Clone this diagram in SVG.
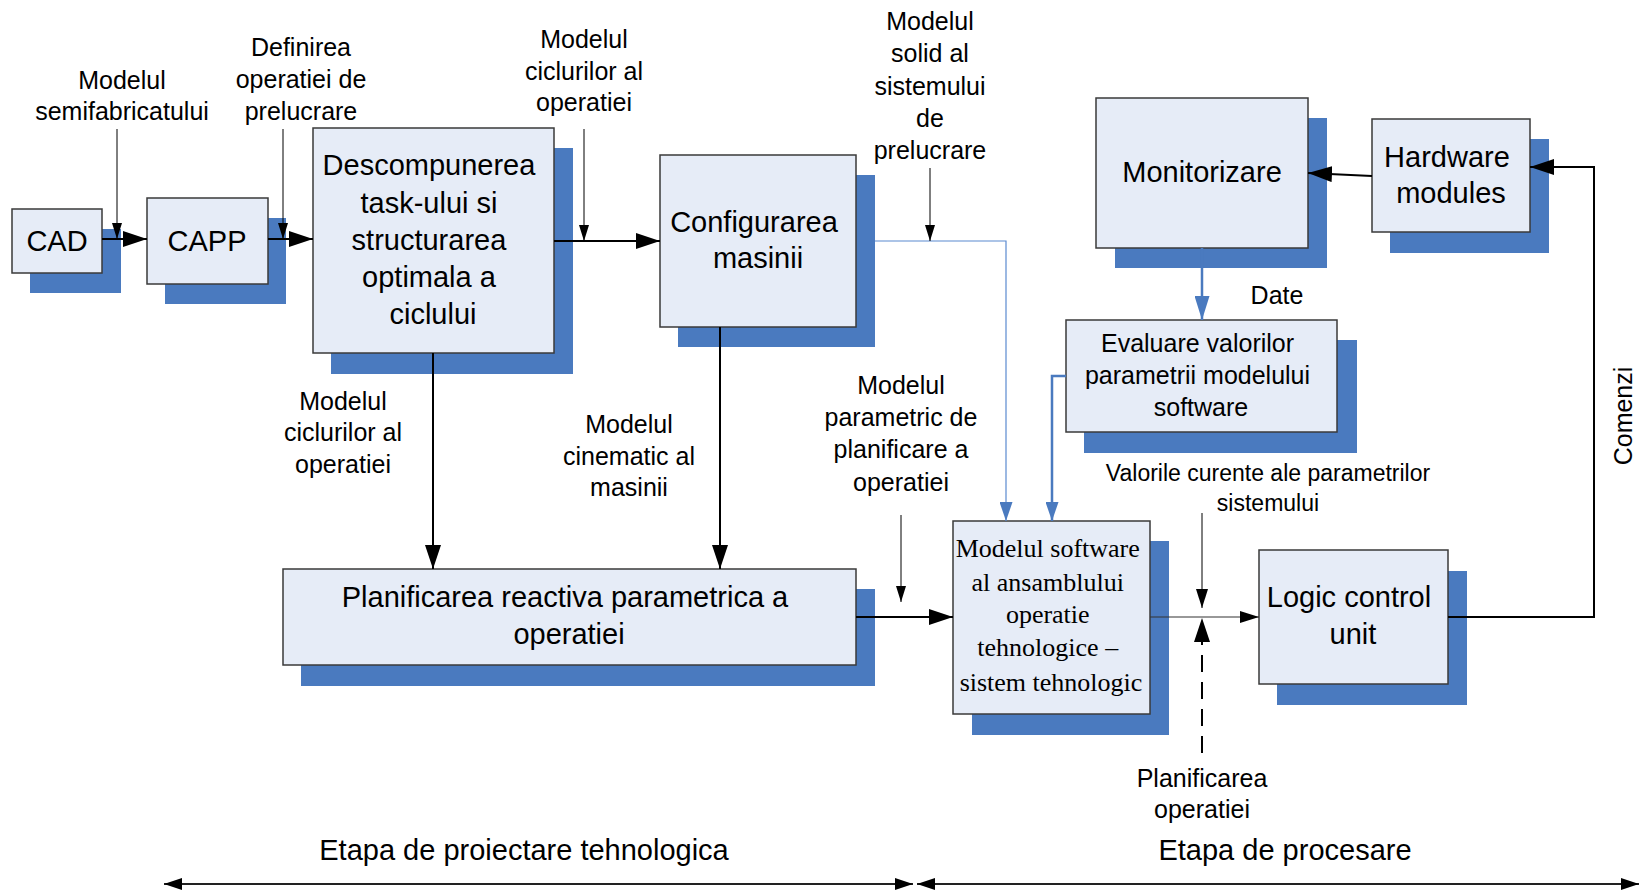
<svg xmlns="http://www.w3.org/2000/svg" width="1646" height="893" viewBox="0 0 1646 893">
<style>
  .sh { fill: #4a7abf; }
  .bx { fill: #e6ecf7; stroke: #3a3a3a; stroke-width: 1.5; }
  text { font-family: "Liberation Sans", Arial, sans-serif; fill: #000; text-anchor: middle; }
  .big { font-size: 29px; }
  .lbl { font-size: 25px; }
  .sm { font-size: 23px; }
  .serif { font-family: "Liberation Serif", "Times New Roman", serif; font-size: 26px; }
  .k { stroke: #000; stroke-width: 2; fill: none; }
  .kt { stroke: #000; stroke-width: 1; fill: none; }
  .kg { stroke: #333; stroke-width: 1.2; fill: none; }
  .b { stroke: #4a7abf; stroke-width: 2.5; fill: none; }
  .bt { stroke: #5b8ad0; stroke-width: 1.2; fill: none; }
  .dash { stroke: #000; stroke-width: 2; fill: none; stroke-dasharray: 17 10; }
  .axis { stroke: #222; stroke-width: 2; fill: none; }
</style>
<defs>
  <marker id="ah" markerUnits="userSpaceOnUse" markerWidth="24" markerHeight="16" refX="24" refY="8" orient="auto">
    <path d="M0,0 L24,8 L0,16 z" fill="#000"/>
  </marker>
  <marker id="am" markerUnits="userSpaceOnUse" markerWidth="19" markerHeight="12" refX="19" refY="6" orient="auto">
    <path d="M0,0 L19,6 L0,12 z" fill="#000"/>
  </marker>
  <marker id="as" markerUnits="userSpaceOnUse" markerWidth="16" markerHeight="10" refX="16" refY="5" orient="auto">
    <path d="M0,0 L16,5 L0,10 z" fill="#000"/>
  </marker>
  <marker id="abl" markerUnits="userSpaceOnUse" markerWidth="24" markerHeight="15" refX="24" refY="7.5" orient="auto">
    <path d="M0,0 L24,7.5 L0,15 z" fill="#4a7abf"/>
  </marker>
  <marker id="abs" markerUnits="userSpaceOnUse" markerWidth="19" markerHeight="13" refX="19" refY="6.5" orient="auto">
    <path d="M0,0 L19,6.5 L0,13 z" fill="#4a7abf"/>
  </marker>
  <marker id="ax" markerUnits="userSpaceOnUse" markerWidth="18" markerHeight="12" refX="18" refY="6" orient="auto-start-reverse">
    <path d="M0,0 L18,6 L0,12 z" fill="#000"/>
  </marker>
</defs>

<!-- nodes: shadow, box, caption -->
<g id="cad">
  <rect class="sh" x="30" y="229" width="91" height="64"/>
  <rect class="bx" x="12" y="209" width="90" height="64"/>
  <text class="big" x="57" y="251">CAD</text>
</g>
<g id="capp">
  <rect class="sh" x="165" y="218" width="121" height="86"/>
  <rect class="bx" x="147" y="198" width="121" height="86"/>
  <text class="big" x="207" y="251">CAPP</text>
</g>
<g id="descompunerea">
  <rect class="sh" x="331" y="148" width="242" height="226"/>
  <rect class="bx" x="313" y="128" width="241" height="225"/>
  <text class="big" x="433">
    <tspan x="433" y="175">Descompunerea</tspan>
    <tspan x="433" y="213">task-ului si</tspan>
    <tspan x="433" y="250">structurarea</tspan>
    <tspan x="433" y="287">optimala a</tspan>
    <tspan x="433" y="324">ciclului</tspan>
  </text>
</g>
<g id="configurarea">
  <rect class="sh" x="678" y="175" width="197" height="172"/>
  <rect class="bx" x="660" y="155" width="196" height="172"/>
  <text class="big" x="758">
    <tspan x="758" y="232">Configurarea</tspan>
    <tspan x="758" y="268">masinii</tspan>
  </text>
</g>
<g id="planificarea">
  <rect class="sh" x="301" y="589" width="574" height="97"/>
  <rect class="bx" x="283" y="569" width="573" height="96"/>
  <text class="big" x="569">
    <tspan x="569" y="607">Planificarea reactiva parametrica a</tspan>
    <tspan x="569" y="644">operatiei</tspan>
  </text>
</g>
<g id="monitorizare">
  <rect class="sh" x="1115" y="118" width="212" height="150"/>
  <rect class="bx" x="1096" y="98" width="212" height="150"/>
  <text class="big" x="1202" y="182">Monitorizare</text>
</g>
<g id="hardware">
  <rect class="sh" x="1390" y="139" width="159" height="114"/>
  <rect class="bx" x="1372" y="119" width="158" height="113"/>
  <text class="big" x="1451">
    <tspan x="1451" y="167">Hardware</tspan>
    <tspan x="1451" y="203">modules</tspan>
  </text>
</g>
<g id="evaluare">
  <rect class="sh" x="1084" y="340" width="273" height="113"/>
  <rect class="bx" x="1066" y="320" width="271" height="112"/>
  <text class="lbl" x="1201">
    <tspan x="1201" y="352">Evaluare valorilor</tspan>
    <tspan x="1201" y="384">parametrii modelului</tspan>
    <tspan x="1201" y="416">software</tspan>
  </text>
</g>
<g id="modelul-software">
  <rect class="sh" x="972" y="541" width="197" height="194"/>
  <rect class="bx" x="953" y="521" width="197" height="193"/>
  <text class="serif" x="1051">
    <tspan x="1051" y="557">Modelul software</tspan>
    <tspan x="1051" y="591">al ansamblului</tspan>
    <tspan x="1051" y="623">operatie</tspan>
    <tspan x="1051" y="656">tehnologice –</tspan>
    <tspan x="1051" y="691">sistem tehnologic</tspan>
  </text>
</g>
<g id="logic-control">
  <rect class="sh" x="1277" y="571" width="190" height="134"/>
  <rect class="bx" x="1259" y="550" width="189" height="134"/>
  <text class="big" x="1353">
    <tspan x="1353" y="607">Logic control</tspan>
    <tspan x="1353" y="644">unit</tspan>
  </text>
</g>

<!-- connectors, drawn over the box shadows -->
<g id="connectors">
  <!-- main chain -->
  <line class="k" x1="102" y1="239" x2="147" y2="239" marker-end="url(#ah)"/>
  <line class="k" x1="268" y1="239" x2="313" y2="239" marker-end="url(#ah)"/>
  <line class="k" x1="554" y1="241" x2="660" y2="241" marker-end="url(#ah)"/>
  <line class="k" x1="433" y1="353" x2="433" y2="569" marker-end="url(#ah)"/>
  <line class="k" x1="720" y1="327" x2="720" y2="569" marker-end="url(#ah)"/>
  <line class="k" x1="856" y1="617" x2="953" y2="617" marker-end="url(#ah)"/>
  <line class="kg" x1="1150" y1="617" x2="1259" y2="617" marker-end="url(#am)"/>
  <polyline class="k" points="1448,617 1594,617 1594,167 1530,167" marker-end="url(#ah)"/>
  <line class="k" x1="1372" y1="176" x2="1308" y2="173" marker-end="url(#ah)"/>

  <!-- blue data links -->
  <polyline class="bt" points="875,241 1006,241 1006,521" marker-end="url(#abs)"/>
  <polyline class="b" points="1066,376 1052,376 1052,521" marker-end="url(#abs)"/>
  <line class="b" x1="1202" y1="248" x2="1202" y2="320" marker-end="url(#abl)"/>

  <!-- label inputs -->
  <line class="kt" x1="117" y1="129" x2="117" y2="239" marker-end="url(#as)"/>
  <line class="kt" x1="283" y1="129" x2="283" y2="239" marker-end="url(#as)"/>
  <line class="kt" x1="584" y1="129" x2="584" y2="241" marker-end="url(#as)"/>
  <line class="kt" x1="930" y1="168" x2="930" y2="241" marker-end="url(#as)"/>
  <line class="kt" x1="901" y1="515" x2="901" y2="602" marker-end="url(#as)"/>
  <line class="kt" x1="1202" y1="513" x2="1202" y2="608" marker-end="url(#am)"/>
  <line class="dash" x1="1202" y1="753" x2="1202" y2="618" marker-end="url(#ah)"/>

  <!-- stage spans -->
  <line class="axis" x1="164" y1="884" x2="913" y2="884" marker-start="url(#ax)" marker-end="url(#ax)"/>
  <line class="axis" x1="917" y1="884" x2="1639" y2="884" marker-start="url(#ax)" marker-end="url(#ax)"/>
</g>

<!-- flow labels -->
<g id="labels">
  <text class="lbl"><tspan x="122" y="89">Modelul</tspan><tspan x="122" y="120">semifabricatului</tspan></text>
  <text class="lbl"><tspan x="301" y="56">Definirea</tspan><tspan x="301" y="88">operatiei de</tspan><tspan x="301" y="120">prelucrare</tspan></text>
  <text class="lbl"><tspan x="584" y="48">Modelul</tspan><tspan x="584" y="80">ciclurilor al</tspan><tspan x="584" y="111">operatiei</tspan></text>
  <text class="lbl"><tspan x="930" y="30">Modelul</tspan><tspan x="930" y="62">solid al</tspan><tspan x="930" y="95">sistemului</tspan><tspan x="930" y="127">de</tspan><tspan x="930" y="159">prelucrare</tspan></text>
  <text class="lbl"><tspan x="343" y="410">Modelul</tspan><tspan x="343" y="441">ciclurilor al</tspan><tspan x="343" y="473">operatiei</tspan></text>
  <text class="lbl"><tspan x="629" y="433">Modelul</tspan><tspan x="629" y="465">cinematic al</tspan><tspan x="629" y="496">masinii</tspan></text>
  <text class="lbl"><tspan x="901" y="394">Modelul</tspan><tspan x="901" y="426">parametric de</tspan><tspan x="901" y="458">planificare a</tspan><tspan x="901" y="491">operatiei</tspan></text>
  <text class="lbl" x="1277" y="304">Date</text>
  <text class="sm"><tspan x="1268" y="481">Valorile curente ale parametrilor</tspan><tspan x="1268" y="511">sistemului</tspan></text>
  <text class="lbl"><tspan x="1202" y="787">Planificarea</tspan><tspan x="1202" y="818">operatiei</tspan></text>
  <text class="lbl" transform="translate(1632,416) rotate(-90)">Comenzi</text>
  <text class="big" x="524" y="860">Etapa de proiectare tehnologica</text>
  <text class="big" x="1285" y="860">Etapa de procesare</text>
</g>
</svg>
